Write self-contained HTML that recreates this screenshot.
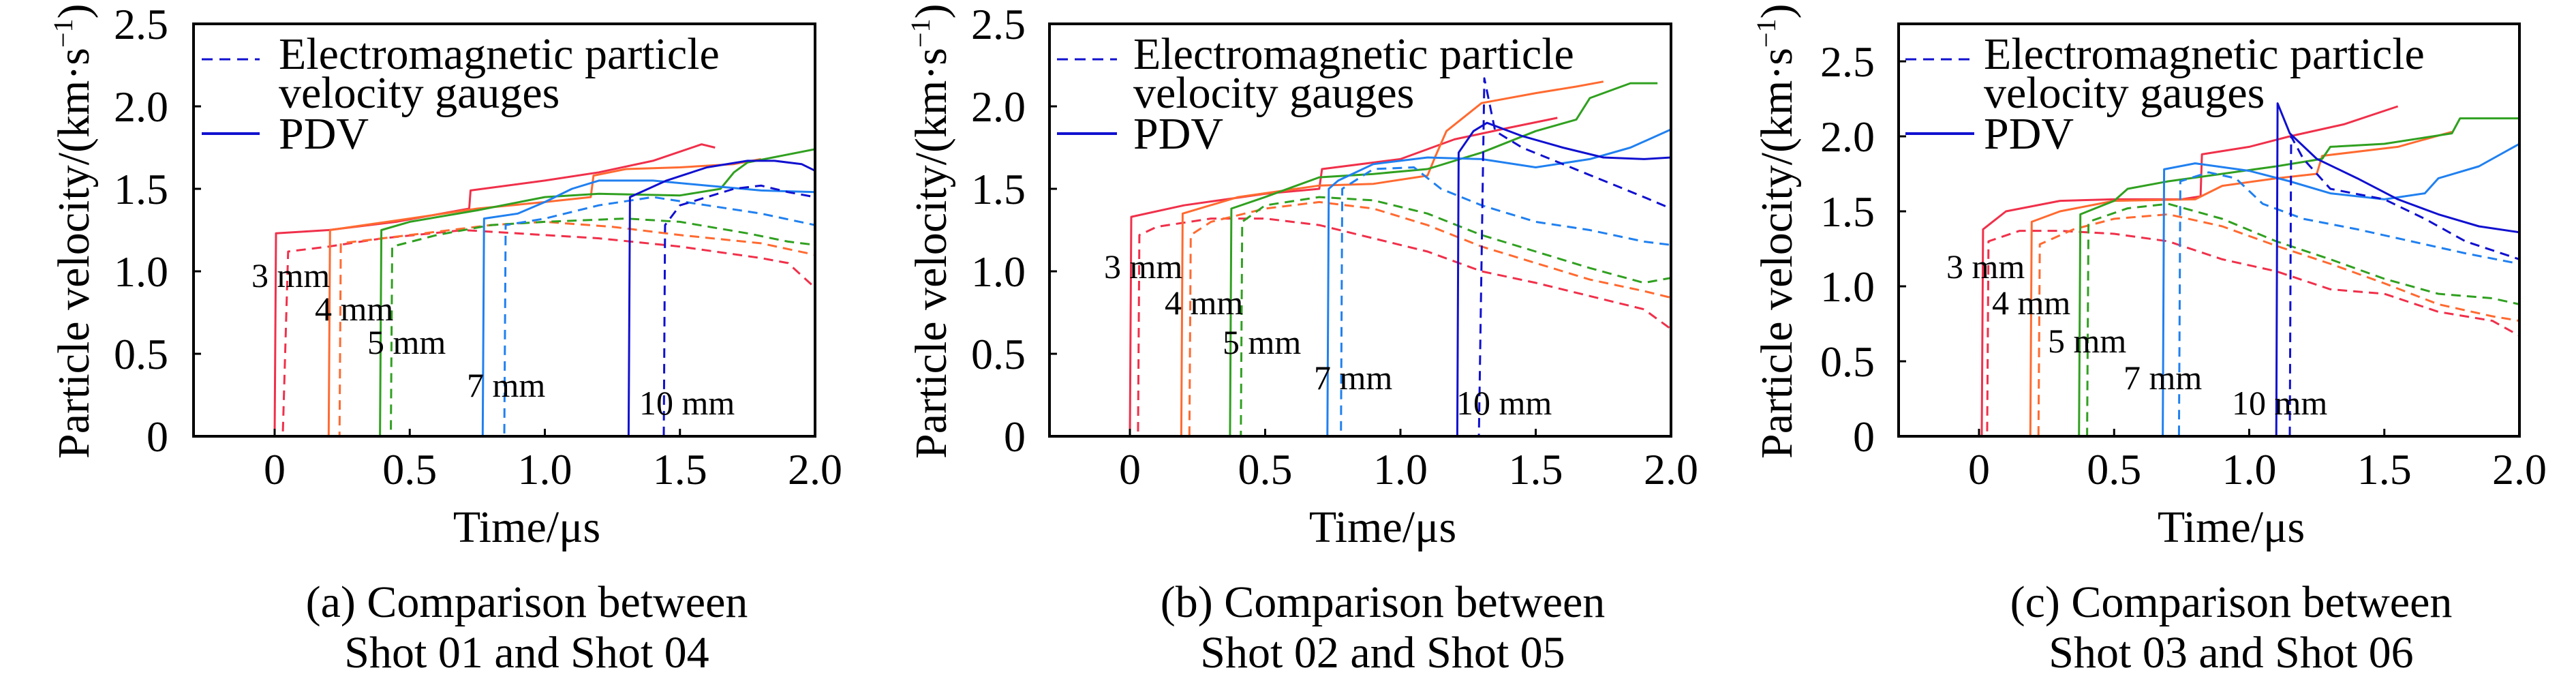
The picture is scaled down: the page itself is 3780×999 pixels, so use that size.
<!DOCTYPE html>
<html><head><meta charset="utf-8">
<style>
html,body{margin:0;padding:0;background:#fff;}
svg{display:block;font-family:"Liberation Serif","Times New Roman",serif;}
</style></head>
<body>
<svg id="fig" width="3780" height="999" viewBox="0 0 3780 999" xmlns="http://www.w3.org/2000/svg"></svg>
<script>
// ---- data (time in µs, velocity in km/s); order: 3,4,5,7,10 mm ----
const gaugeLabels = ["3 mm","4 mm","5 mm","7 mm","10 mm"];
const seriesColors = ["#f0304a","#ff6a30","#30a020","#2080f0","#1010d0"];
const xTicks = [0,0.5,1.0,1.5,2.0];
const xTickLabels = ["0","0.5","1.0","1.5","2.0"];
const yTicks = [0,0.5,1.0,1.5,2.0,2.5];
const yTickLabels = ["0","0.5","1.0","1.5","2.0","2.5"];

// Panel (a)
const aPdvT = [
 [-0.3,0,0.005,0.2,0.45,0.72,0.725,1.0,1.2,1.4,1.58,1.63],
 [-0.3,0.2,0.205,0.5,0.75,1.0,1.17,1.18,1.3,1.5,1.7,1.8],
 [-0.3,0.39,0.395,0.5,0.75,1.0,1.2,1.5,1.65,1.7,1.75,2.0],
 [-0.3,0.77,0.775,0.9,1.0,1.1,1.2,1.4,1.6,1.8,2.0],
 [-0.3,1.31,1.315,1.45,1.6,1.75,1.85,1.95,2.0]];
const aPdvV = [
 [0,0,1.23,1.25,1.30,1.38,1.49,1.55,1.60,1.67,1.77,1.75],
 [0,0,1.25,1.32,1.38,1.42,1.45,1.58,1.62,1.63,1.65,1.68],
 [0,0,1.25,1.30,1.37,1.45,1.47,1.46,1.50,1.60,1.66,1.74],
 [0,0,1.32,1.35,1.42,1.50,1.55,1.55,1.52,1.49,1.48],
 [0,0,1.45,1.55,1.63,1.67,1.67,1.65,1.61]];
const aGaugeT = [
 [-0.3,0.03,0.05,0.2,0.4,0.7,1.0,1.2,1.5,1.8,1.9,2.0],
 [-0.3,0.24,0.245,0.5,0.8,1.0,1.25,1.5,1.8,2.0],
 [-0.3,0.43,0.435,0.6,0.8,1.0,1.3,1.5,1.75,1.9,2.0],
 [-0.3,0.85,0.855,1.0,1.2,1.4,1.6,1.8,2.0],
 [-0.3,1.44,1.445,1.5,1.6,1.7,1.8,1.9,2.0]];
const aGaugeV = [
 [0,0,1.12,1.15,1.20,1.25,1.22,1.20,1.15,1.08,1.05,0.90],
 [0,0,1.17,1.22,1.28,1.30,1.27,1.22,1.17,1.10],
 [0,0,1.15,1.22,1.28,1.30,1.32,1.30,1.23,1.18,1.16],
 [0,0,1.28,1.32,1.40,1.45,1.40,1.35,1.28],
 [0,0,1.28,1.40,1.45,1.50,1.52,1.48,1.45]];

// Panel (b)
const bPdvT = [
 [-0.3,0,0.005,0.2,0.5,0.7,0.71,1.0,1.2,1.4,1.58],
 [-0.3,0.19,0.195,0.4,0.7,0.9,1.1,1.13,1.17,1.3,1.5,1.65,1.75],
 [-0.3,0.37,0.375,0.5,0.7,0.9,1.1,1.3,1.5,1.65,1.7,1.85,1.95],
 [-0.3,0.73,0.735,0.77,0.9,1.1,1.3,1.5,1.7,1.85,2.0],
 [-0.3,1.21,1.215,1.27,1.32,1.45,1.6,1.75,1.9,2.0]];
const bPdvV = [
 [0,0,1.33,1.40,1.47,1.50,1.62,1.68,1.80,1.87,1.93],
 [0,0,1.35,1.45,1.52,1.53,1.58,1.70,1.85,2.02,2.08,2.12,2.15],
 [0,0,1.38,1.45,1.57,1.59,1.62,1.72,1.85,1.92,2.05,2.14,2.14],
 [0,0,1.50,1.55,1.65,1.69,1.68,1.63,1.68,1.75,1.86],
 [0,0,1.72,1.85,1.90,1.82,1.75,1.69,1.68,1.69]];
const bGaugeT = [
 [-0.3,0.03,0.035,0.1,0.3,0.5,0.7,0.9,1.1,1.3,1.5,1.7,1.9,2.0],
 [-0.3,0.22,0.225,0.3,0.5,0.7,0.9,1.1,1.3,1.5,1.7,1.9,2.0],
 [-0.3,0.41,0.415,0.5,0.7,0.9,1.1,1.3,1.5,1.7,1.9,2.0],
 [-0.3,0.78,0.785,0.9,1.05,1.15,1.3,1.5,1.7,1.9,2.0],
 [-0.3,1.29,1.31,1.35,1.45,1.6,1.75,1.9,2.0]];
const bGaugeV = [
 [0,0,1.22,1.27,1.32,1.32,1.28,1.20,1.12,1.00,0.93,0.85,0.77,0.65],
 [0,0,1.22,1.30,1.38,1.42,1.38,1.28,1.15,1.05,0.95,0.88,0.84],
 [0,0,1.30,1.40,1.45,1.43,1.35,1.22,1.12,1.02,0.93,0.96],
 [0,0,1.50,1.62,1.63,1.50,1.40,1.30,1.25,1.18,1.16],
 [0,0,2.17,1.85,1.75,1.65,1.55,1.45,1.38]];

// Panel (c)
const cPdvT = [
 [-0.3,0.01,0.015,0.1,0.3,0.5,0.75,0.82,0.825,1.0,1.15,1.35,1.55],
 [-0.3,0.19,0.195,0.3,0.5,0.8,0.9,1.1,1.25,1.27,1.55,1.75],
 [-0.3,0.37,0.375,0.5,0.55,0.7,0.9,1.1,1.27,1.3,1.5,1.75,1.78,2.0],
 [-0.3,0.68,0.685,0.8,1.0,1.15,1.3,1.5,1.65,1.7,1.85,2.0],
 [-0.3,1.10,1.105,1.15,1.25,1.4,1.55,1.7,1.85,2.0]];
const cPdvV = [
 [0,0,1.38,1.50,1.57,1.58,1.58,1.60,1.88,1.93,2.00,2.08,2.20],
 [0,0,1.43,1.50,1.57,1.58,1.67,1.72,1.75,1.87,1.93,2.03],
 [0,0,1.48,1.57,1.65,1.70,1.75,1.80,1.85,1.93,1.95,2.02,2.12,2.12],
 [0,0,1.78,1.82,1.77,1.70,1.62,1.58,1.62,1.72,1.80,1.95],
 [0,0,2.22,2.02,1.85,1.72,1.58,1.48,1.40,1.36]];
const cGaugeT = [
 [-0.3,0.03,0.035,0.15,0.3,0.5,0.7,0.9,1.1,1.3,1.5,1.7,1.9,2.0],
 [-0.3,0.22,0.225,0.35,0.5,0.7,0.9,1.1,1.3,1.5,1.7,1.9,2.0],
 [-0.3,0.4,0.405,0.55,0.7,0.9,1.1,1.3,1.5,1.7,1.9,2.0],
 [-0.3,0.74,0.745,0.85,0.95,1.05,1.2,1.4,1.6,1.8,2.0],
 [-0.3,1.15,1.155,1.2,1.3,1.5,1.65,1.8,2.0]];
const cGaugeV = [
 [0,0,1.30,1.37,1.37,1.35,1.30,1.18,1.10,0.98,0.95,0.83,0.77,0.67],
 [0,0,1.28,1.38,1.45,1.48,1.40,1.27,1.15,1.02,0.88,0.80,0.77],
 [0,0,1.43,1.52,1.55,1.45,1.30,1.18,1.05,0.95,0.92,0.88],
 [0,0,1.70,1.76,1.72,1.55,1.45,1.38,1.30,1.22,1.15],
 [0,0,2.00,1.85,1.65,1.58,1.45,1.30,1.18]];

const NS = "http://www.w3.org/2000/svg";
const fig = document.getElementById('fig');
function mk(tag, attrs, parent){
  const e = document.createElementNS(NS, tag);
  for (const k in attrs) e.setAttribute(k, attrs[k]);
  (parent||fig).appendChild(e);
  return e;
}

const panels = [
 {id:"a", off:0, left:284, right:1196, x0:403, ymax:2.5, pdvT:aPdvT, pdvV:aPdvV, gT:aGaugeT, gV:aGaugeV,
  tickRight:247, titleX:130, legLine:[296,381], legText:409, capX:773,
  cap1:"(a) Comparison between", cap2:"Shot 01 and Shot 04",
  ann:[[369,404],[462,453],[539,502],[685,565],[938,591]]},
 {id:"b", off:1258, left:282, right:1194, x0:400, ymax:2.5, pdvT:bPdvT, pdvV:bPdvV, gT:bGaugeT, gV:bGaugeV,
  tickRight:247, titleX:130, legLine:[293,381], legText:405, capX:771,
  cap1:"(b) Comparison between", cap2:"Shot 02 and Shot 05",
  ann:[[362,391],[451,444],[536,502],[670,554],[879,591]]},
 {id:"c", off:2520, left:266, right:1177, x0:384, ymax:2.75, pdvT:cPdvT, pdvV:cPdvV, gT:cGaugeT, gV:cGaugeV,
  tickRight:231, titleX:109, legLine:[276,377], legText:391, capX:754,
  cap1:"(c) Comparison between", cap2:"Shot 03 and Shot 06",
  ann:[[336,391],[403,444],[485,500],[596,554],[755,591]]}
];
const TOP = 35, BOTTOM = 640;

panels.forEach(p => {
  const g = mk('g', {transform:`translate(${p.off},0)`});
  
  
  const pxPerUs = (p.right - p.x0) / 2.0;
  const xs = t => p.x0 + t * pxPerUs;
  const ys = v => BOTTOM - v / p.ymax * (BOTTOM - TOP);

  // clip
  const clip = mk('clipPath', {id:'clip-'+p.id}, g);
  mk('rect', {x:p.left, y:TOP, width:p.right-p.left, height:BOTTOM-TOP}, clip);
  const plot = mk('g', {'clip-path':`url(#clip-${p.id})`}, g);
  
  

  // series
  for (let i = 0; i < 5; i++) {
    const dpts = p.gT[i].map((t,j) => `${xs(t).toFixed(1)},${ys(p.gV[i][j]).toFixed(1)}`).join(' ');
    const dl = mk('polyline', {points:dpts, fill:'none', stroke:seriesColors[i], 'stroke-width':3, 'stroke-dasharray':'14,9', 'stroke-linejoin':'round'}, plot);
    
    
    const spts = p.pdvT[i].map((t,j) => `${xs(t).toFixed(1)},${ys(p.pdvV[i][j]).toFixed(1)}`).join(' ');
    const sl = mk('polyline', {points:spts, fill:'none', stroke:seriesColors[i], 'stroke-width':3, 'stroke-linejoin':'round'}, plot);
    
    
  }

  // frame
  const fr = mk('rect', {x:p.left, y:TOP, width:p.right-p.left, height:BOTTOM-TOP, fill:'none', stroke:'#000', 'stroke-width':4}, g);
  
  

  // x ticks
  xTicks.forEach((t,i) => {
    const x = xs(t);
    const tk = mk('line', {x1:x, x2:x, y1:BOTTOM, y2:BOTTOM-11, stroke:'#000', 'stroke-width':3}, g);
    
    
    const tl = mk('text', {x:x, y:710, 'font-size':64, 'text-anchor':'middle'}, g);
    tl.textContent = xTickLabels[i];
    
    
  });
  // y ticks
  yTicks.forEach((v,i) => {
    const y = ys(v);
    const tk = mk('line', {x1:p.left, x2:p.left+11, y1:y, y2:y, stroke:'#000', 'stroke-width':3}, g);
    
    
    const tl = mk('text', {x:p.tickRight, y:y+22, 'font-size':64, 'text-anchor':'end'}, g);
    tl.textContent = yTickLabels[i];
    
    
  });

  // y title
  const yt = mk('text', {x:0, y:0, 'font-size':66, transform:`translate(${p.titleX},673) rotate(-90)`}, g);
  yt.innerHTML = 'Particle velocity/(km·s<tspan dy="-24" font-size="40">−1</tspan><tspan dy="24">)</tspan>';
  
  

  // x title
  const xt = mk('text', {x:p.capX, y:795, 'font-size':66, 'text-anchor':'middle'}, g);
  xt.textContent = 'Time/μs';
  
  

  // legend
  const lg = mk('g', {}, g);
  
  
  const l1 = mk('line', {x1:p.legLine[0], x2:p.legLine[1], y1:87, y2:87, stroke:'#1010d0', 'stroke-width':3, 'stroke-dasharray':'16,10'}, lg);
  
  
  const t1 = mk('text', {x:p.legText, y:101, 'font-size':66}, lg);
  t1.textContent = 'Electromagnetic particle';
  
  
  const t2 = mk('text', {x:p.legText, y:158, 'font-size':66}, lg);
  t2.textContent = 'velocity gauges';
  
  
  const l2 = mk('line', {x1:p.legLine[0], x2:p.legLine[1], y1:196, y2:196, stroke:'#1010d0', 'stroke-width':4}, lg);
  
  
  const t3 = mk('text', {x:p.legText, y:218, 'font-size':66}, lg);
  t3.textContent = 'PDV';
  
  

  // annotations
  p.ann.forEach((a,i) => {
    const at = mk('text', {x:a[0], y:a[1]+17, 'font-size':50}, g);
    at.textContent = gaugeLabels[i];
    
    
  });

  // caption
  const c1 = mk('text', {x:p.capX, y:905, 'font-size':66, 'text-anchor':'middle'}, g);
  c1.textContent = p.cap1;
  
  
  const c2 = mk('text', {x:p.capX, y:979, 'font-size':66, 'text-anchor':'middle'}, g);
  c2.textContent = p.cap2;
  
  
});
</script>
</body></html>
